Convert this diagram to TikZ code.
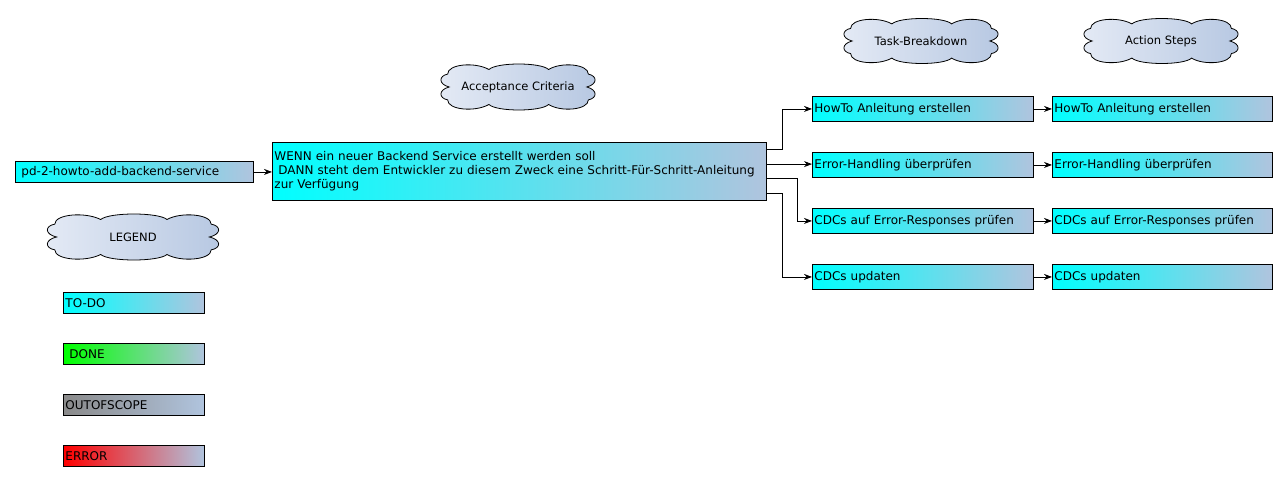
\documentclass[tikz,border=0pt]{standalone}
\usepackage{fontspec}
\setmainfont{DejaVu Sans}
\usetikzlibrary{arrows.meta,positioning,calc}
\definecolor{Steel}{HTML}{B0C4DE}
\definecolor{CloudL}{HTML}{E4EAF5}
\definecolor{CloudR}{HTML}{B7C8E2}
\definecolor{Done}{HTML}{00FF00}
\definecolor{Scope}{HTML}{8A8A8A}
\definecolor{Err}{HTML}{FF0000}
% cloud outline: centre, width, height
\newcommand{\puffcloud}[3]{%
  \draw[line width=0.8pt,left color=CloudL,right color=CloudR,shift={#1},x=#2,y=-#3]
    (-0.46,-0.28) .. controls (-0.46,-0.5) and (-0.28,-0.55) .. (-0.19,-0.38)
    .. controls (-0.14,-0.54) and (0.15,-0.54) .. (0.20,-0.38)
    .. controls (0.28,-0.55) and (0.46,-0.5) .. (0.46,-0.28)
    .. controls (0.52,-0.24) and (0.52,-0.06) .. (0.45,0)
    .. controls (0.52,0.06) and (0.52,0.24) .. (0.46,0.28)
    .. controls (0.46,0.5) and (0.28,0.55) .. (0.20,0.38)
    .. controls (0.15,0.54) and (-0.14,0.54) .. (-0.19,0.38)
    .. controls (-0.28,0.55) and (-0.46,0.5) .. (-0.46,0.28)
    .. controls (-0.52,0.24) and (-0.52,0.06) .. (-0.45,0)
    .. controls (-0.52,-0.06) and (-0.52,-0.24) .. (-0.46,-0.28) -- cycle;}

\begin{document}
\begin{tikzpicture}[x=1pt,y=-1pt,
  box/.style={draw,line width=0.9pt,anchor=north west,inner xsep=2pt,inner ysep=0pt,align=left,
    font=\fontsize{12}{14}\selectfont,left color=#1,right color=Steel},
  box/.default=cyan,
  lbl/.style={font=\fontsize{11.5}{14}\selectfont},
  conn/.style={-{Stealth[length=8pt,width=6pt]},line width=0.8pt}]
  \useasboundingbox (0,0) rectangle (1288,481);
  \node[box,inner xsep=6pt,text width=226pt,minimum height=21pt] (story) at (15,161) {pd-2-howto-add-backend-service};
  \node[box,inner xsep=2pt,text width=490pt,minimum height=58pt] (crit) at (272,142)
    {WENN ein neuer Backend Service erstellt werden soll\\
     \hspace*{4pt}DANN steht dem Entwickler zu diesem Zweck eine Schritt-Für-Schritt-Anleitung\\
     zur Verfügung};
  \puffcloud{(518,87)}{153pt}{46pt}
  \puffcloud{(921,41)}{153pt}{45pt}
  \puffcloud{(1161,41)}{153pt}{45pt}
  \puffcloud{(133,237)}{170pt}{46pt}
  \node[lbl] (accLbl) at (518,87) {Acceptance Criteria};
  \node[lbl] (taskLbl) at (921,41) {Task-Breakdown};
  \node[lbl] (actLbl) at (1161,41) {Action Steps};
  \node[lbl] (legLbl) at (133,237) {LEGEND};
  \foreach \i/\txt in {1/HowTo Anleitung erstellen,2/Error-Handling überprüfen,3/CDCs auf Error-Responses prüfen,4/CDCs updaten}{
    \node[box,text width=217pt,minimum height=25pt] (t\i) at (812,40+56*\i) {\txt};
    \node[box,text width=216pt,minimum height=25pt] (a\i) at (1052,40+56*\i) {\txt};
    \draw[conn] (t\i) -- (a\i);
  }
  \node[box,text width=137pt,minimum height=21pt] (todo) at (63,292) {TO-DO};
  \node[box=Done,text width=137pt,minimum height=21pt] (done) at (63,343) {\hspace*{4pt}DONE};
  \node[box=Scope,text width=137pt,minimum height=21pt] (oos) at (63,394) {OUTOFSCOPE};
  \node[box=Err,text width=137pt,minimum height=21pt] (err) at (63,445) {ERROR};
  \draw[conn] (story.east) -- (story.east -| crit.west);
  \foreach \i/\f in {1/.125,2/.375,3/.625,4/.875}
    \coordinate (c\i) at ($(crit.north east)!\f!(crit.south east)$);
  \draw[conn] (c1) -- ++(15,0) |- (t1.west);
  \draw[conn] (c2) -- (c2 -| t2.west);
  \draw[conn] (c3) -- ++(30,0) |- (t3.west);
  \draw[conn] (c4) -- ++(15,0) |- (t4.west);
\end{tikzpicture}
\end{document}
